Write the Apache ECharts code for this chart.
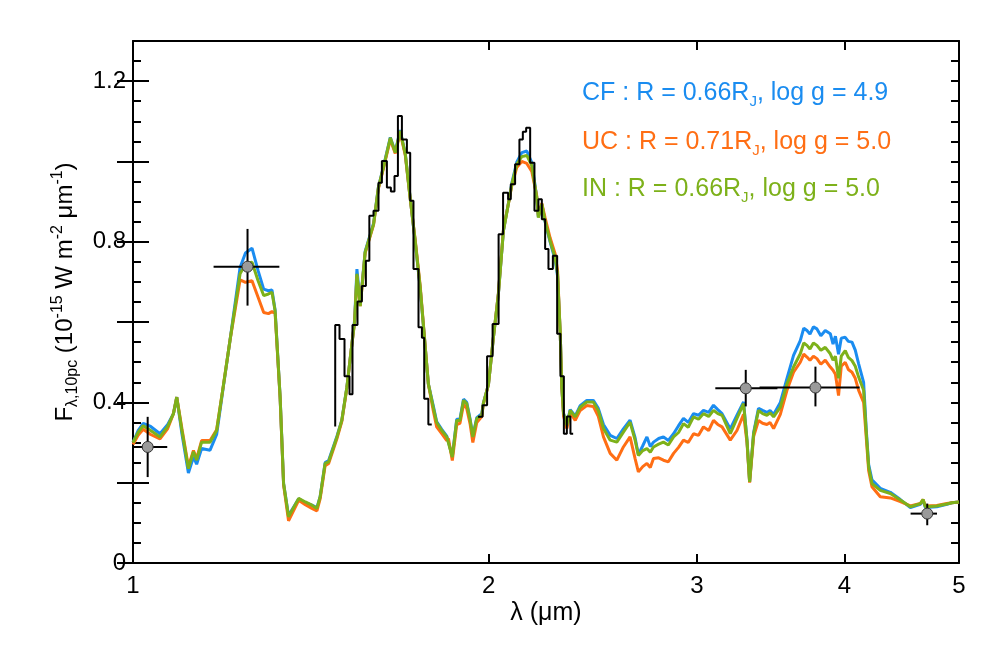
<!DOCTYPE html>
<html>
<head>
<meta charset="utf-8">
<script src="https://cdn.jsdelivr.net/npm/echarts@6/dist/echarts.min.js"></script>
<style>
html,body{margin:0;padding:0;background:#fff;}
#chart{width:997px;height:648px;}
</style>
</head>
<body>
<div id="chart"></div>
<script>
// Wavelength grid (micron) for the model spectra
const lam = [1.000,1.010,1.020,1.035,1.054,1.070,1.082,1.089,1.100,1.114,1.125,1.132,1.143,1.162,1.177,1.192,1.208,1.232,1.245,1.261,1.276,1.290,1.302,1.311,1.319,1.332,1.341,1.354,1.381,1.399,1.417,1.431,1.440,1.454,1.464,1.488,1.502,1.517,1.532,1.540,1.547,1.557,1.572,1.598,1.613,1.629,1.651,1.667,1.683,1.700,1.716,1.733,1.750,1.778,1.795,1.807,1.825,1.843,1.849,1.863,1.879,1.891,1.904,1.916,1.929,1.939,1.954,1.973,1.979,1.999,2.018,2.038,2.058,2.078,2.092,2.112,2.133,2.154,2.175,2.196,2.203,2.218,2.232,2.254,2.276,2.287,2.299,2.306,2.314,2.329,2.344,2.367,2.390,2.421,2.452,2.476,2.501,2.534,2.567,2.600,2.634,2.660,2.677,2.700,2.722,2.740,2.757,2.785,2.811,2.838,2.867,2.895,2.923,2.950,2.981,3.010,3.039,3.070,3.099,3.125,3.151,3.202,3.244,3.286,3.308,3.325,3.351,3.383,3.410,3.439,3.460,3.484,3.530,3.576,3.622,3.670,3.695,3.718,3.740,3.765,3.791,3.820,3.853,3.891,3.912,3.930,3.954,3.975,4.006,4.030,4.059,4.085,4.112,4.152,4.174,4.193,4.220,4.289,4.374,4.460,4.548,4.637,4.662,4.683,4.788,4.883,4.931,5.000];
// IN model (green)
const fluxIN = [.300,.325,.342,.330,.314,.340,.372,.413,.330,.235,.277,.256,.301,.301,.330,.438,.554,.720,.745,.749,.703,.666,.670,.674,.628,.413,.198,.115,.161,.152,.144,.136,.165,.248,.252,.314,.355,.438,.546,.600,.720,.640,.774,.844,.935,.985,1.059,1.022,1.076,1.018,.910,.802,.686,.446,.388,.350,.330,.314,.318,.264,.355,.355,.405,.397,.355,.314,.360,.368,.397,.445,.560,.670,.827,.894,.943,.993,1.012,1.015,.990,.910,.860,.894,.852,.802,.761,.720,.571,.438,.372,.343,.380,.364,.388,.401,.401,.380,.335,.306,.301,.326,.351,.306,.268,.280,.285,.276,.289,.296,.301,.294,.314,.325,.347,.338,.364,.358,.372,.365,.380,.372,.368,.322,.360,.397,.306,.202,.322,.380,.372,.368,.374,.364,.388,.446,.488,.521,.548,.542,.533,.548,.542,.530,.537,.521,.505,.515,.460,.515,.529,.512,.504,.490,.463,.430,.322,.239,.198,.181,.173,.157,.140,.148,.158,.140,.142,.147,.150,.152];
// CF model (blue)
const fluxCF = [.300,.330,.348,.340,.322,.345,.372,.413,.322,.224,.264,.246,.285,.281,.320,.435,.554,.736,.772,.784,.728,.682,.678,.680,.630,.413,.198,.118,.160,.150,.144,.138,.165,.250,.255,.316,.355,.438,.546,.605,.732,.645,.776,.846,.935,.987,1.060,1.024,1.078,1.018,.910,.800,.684,.446,.392,.352,.333,.316,.320,.266,.358,.358,.408,.400,.357,.316,.362,.372,.398,.445,.560,.670,.827,.896,.946,.998,1.022,1.026,.997,.912,.862,.894,.850,.800,.755,.715,.571,.438,.372,.345,.382,.366,.392,.405,.405,.385,.345,.318,.310,.334,.356,.312,.270,.292,.314,.290,.301,.310,.314,.305,.322,.342,.360,.350,.372,.368,.380,.375,.393,.382,.372,.334,.368,.401,.306,.202,.325,.385,.380,.375,.380,.370,.400,.460,.517,.554,.585,.579,.570,.588,.583,.566,.579,.571,.545,.565,.520,.560,.562,.552,.550,.530,.496,.450,.330,.245,.207,.186,.176,.158,.138,.146,.156,.138,.140,.146,.150,.152];
// UC model (orange)
const fluxUC = [.295,.318,.333,.320,.309,.335,.372,.413,.335,.240,.280,.260,.305,.305,.332,.438,.554,.705,.699,.703,.662,.624,.621,.626,.622,.410,.195,.105,.156,.145,.136,.130,.160,.242,.248,.310,.352,.436,.546,.600,.715,.640,.772,.842,.932,.983,1.055,1.020,1.072,1.015,.908,.805,.690,.446,.380,.339,.322,.305,.310,.255,.345,.348,.395,.385,.345,.300,.350,.365,.395,.445,.560,.672,.830,.894,.940,.985,1.000,.995,.975,.915,.865,.896,.860,.810,.770,.728,.571,.438,.365,.335,.375,.355,.380,.392,.390,.365,.314,.273,.256,.289,.314,.260,.227,.240,.248,.238,.260,.262,.256,.252,.273,.288,.306,.300,.322,.318,.339,.330,.355,.345,.339,.306,.330,.370,.300,.200,.315,.355,.348,.345,.350,.335,.370,.430,.475,.500,.520,.513,.505,.515,.509,.495,.505,.488,.480,.470,.417,.490,.500,.482,.475,.460,.430,.400,.310,.230,.190,.165,.162,.153,.142,.148,.158,.142,.143,.148,.150,.152];

// Observed spectrum (step histogram), two segments: left edge of each bin, flux
const obs1Lam = [1.4829,1.4829,1.4954,1.5100,1.5248,1.5337,1.5487,1.5620,1.5742,1.5849,1.5978,1.6134,1.6241,1.6400,1.6528,1.6645,1.6756,1.6887,1.7052,1.7162,1.7272,1.7442,1.7558,1.7637,1.7780,1.7898];
const obs1Flux = [0.340,0.593,0.558,0.465,0.420,0.593,0.651,0.690,0.753,0.865,0.877,0.947,1.001,0.935,0.925,0.964,1.113,1.055,1.022,0.902,0.732,0.587,0.561,0.409,0.345,0.345];
const obs2Lam = [1.9588,1.9762,1.9936,2.0151,2.0388,2.0567,2.0769,2.0878,2.1054,2.1232,2.1374,2.1512,2.1681,2.1863,2.2033,2.2180,2.2323,2.2468,2.2662,2.2852,2.3000,2.3153,2.3288,2.3452,2.3576];
const obs2Flux = [0.364,0.393,0.515,0.595,0.819,0.922,0.906,0.943,0.993,1.055,1.074,1.084,0.997,0.877,0.906,0.856,0.782,0.732,0.765,0.571,0.465,0.322,0.365,0.322,0.322];

// Photometry with error bars
const photLam = [1.029,1.250,3.300,3.780,4.700];
const photFlux = [0.289,0.738,0.435,0.437,0.123];
const photLamLo = [1.000,1.170,3.110,3.390,4.550];
const photLamHi = [1.069,1.330,3.510,4.120,4.790];
const photFluxLo = [0.214,0.641,0.390,0.390,0.094];
const photFluxHi = [0.364,0.832,0.481,0.489,0.148];

// Axis ticks
const xTickVals = [1,2,3,4,5];
const yMajorTicks = [0,0.2,0.4,0.6,0.8,1.0,1.2];
const yLabelVals = [0,0.4,0.8,1.2];

const legendLines = [
  {pre:'CF : R = 0.66R', post:', log g = 4.9'},
  {pre:'UC : R = 0.71R', post:', log g = 5.0'},
  {pre:'IN : R = 0.66R', post:', log g = 5.0'}
];

const cBlue = '#1a8cf0', cOrange = '#ff6e14', cGreen = '#7db11a';
const FONT = '"Liberation Sans", Arial, Helvetica, sans-serif';
const L = v => Math.log10(v);

const chart = echarts.init(document.getElementById('chart'), null, {renderer:'canvas'});

function xAxisDef(pos, labels){
  return {
    type:'value', min:0, max:L(5), position:pos,
    axisLine:{show:true, onZero:false, lineStyle:{color:'#000', width:2}},
    axisTick:{show:true, inside:true, length:9, lineStyle:{color:'#000', width:2}, customValues: xTickVals.map(L)},
    axisLabel:{show:labels, customValues: xTickVals.map(L), formatter: v => String(Math.round(Math.pow(10, v))), color:'#000', fontSize:24, fontFamily:FONT, margin:11},
    splitLine:{show:false}
  };
}
function yMinor(pos){
  return {type:'value', min:0, max:1.3, interval:0.05, position:pos,
    axisLine:{show:true, onZero:false, lineStyle:{color:'#000', width:2}},
    axisTick:{show:true, inside:true, length:8, lineStyle:{color:'#000', width:2}},
    axisLabel:{show:false}, splitLine:{show:false}};
}
function yMajor(pos, labels){
  return {type:'value', min:0, max:1.3, position:pos,
    axisLine:{show:false},
    axisTick:{show:true, inside:true, length:16, lineStyle:{color:'#000', width:2}, customValues: yMajorTicks},
    axisLabel:{show:labels, customValues: yLabelVals, formatter: v => v === 0 ? '0' : v.toFixed(1), color:'#000', fontSize:24, fontFamily:FONT, margin:7},
    splitLine:{show:false}};
}

function lineSeries(name, vals, color){
  return {name, type:'line', xAxisIndex:0, yAxisIndex:0, showSymbol:false, symbol:'none',
    data: lam.map((l,i)=>[L(l), vals[i]]), lineStyle:{color, width:3}, itemStyle:{color}, animation:false, z:2};
}
function stepSeries(ls, fs){
  return {type:'line', step:'end', xAxisIndex:0, yAxisIndex:0, showSymbol:false, symbol:'none',
    data: ls.map((l,i)=>[L(l), fs[i]]), lineStyle:{color:'#000', width:2}, animation:false, z:4};
}

const photData = photLam.map((l,i)=>[L(l), photFlux[i], L(photLamLo[i]), L(photLamHi[i]), photFluxLo[i], photFluxHi[i]]);

const legendGraphics = legendLines.map((t,i)=>{
  const col = [cBlue,cOrange,cGreen][i];
  return {type:'text', left:582, top:[81,130,177][i], z:100,
    style:{text:'{a|'+t.pre+'}{s|J}{a|'+t.post+'}',
      rich:{a:{fontSize:25, fontFamily:FONT, fill:col, color:col},
            s:{fontSize:15, fontFamily:FONT, fill:col, color:col, padding:[16,0,0,0]}}}};
});

const option = {
  backgroundColor:'#fff',
  animation:false,
  grid:{left:133, right:38, top:41, bottom:85, containLabel:false},
  xAxis:[xAxisDef('bottom', true), xAxisDef('top', false)],
  yAxis:[yMinor('left'), yMajor('left', true), yMinor('right'), yMajor('right', false)],
  series:[
    lineSeries('CF', fluxCF, cBlue),
    lineSeries('UC', fluxUC, cOrange),
    lineSeries('IN', fluxIN, cGreen),
    stepSeries(obs1Lam, obs1Flux),
    stepSeries(obs2Lam, obs2Flux),
    {type:'custom', xAxisIndex:0, yAxisIndex:0, z:6, animation:false,
      data: photData,
      renderItem:(params, api)=>{
        const c = api.coord([api.value(0), api.value(1)]);
        const xl = api.coord([api.value(2), api.value(1)]);
        const xh = api.coord([api.value(3), api.value(1)]);
        const yl = api.coord([api.value(0), api.value(4)]);
        const yh = api.coord([api.value(0), api.value(5)]);
        return {type:'group', children:[
          {type:'line', shape:{x1:xl[0], y1:xl[1], x2:xh[0], y2:xh[1]}, style:{stroke:'#000', lineWidth:2}},
          {type:'line', shape:{x1:yl[0], y1:yl[1], x2:yh[0], y2:yh[1]}, style:{stroke:'#000', lineWidth:2}},
          {type:'circle', shape:{cx:c[0], cy:c[1], r:5.5}, style:{fill:'#9a9a9a', stroke:'#333', lineWidth:1}}
        ]};
      }}
  ],
  graphic:[
    ...legendGraphics,
    {type:'text', x:546, y:613, z:100,
      style:{text:'λ (μm)', fontSize:25, fontFamily:FONT, fill:'#000', align:'center', verticalAlign:'middle'}},
    {type:'text', x:65, y:292, rotation:Math.PI/2, z:100,
      style:{text:'{m|F}{sb|λ,10pc}{m| (10}{sp|-15}{m| W m}{sp|-2}{m| μm}{sp|-1}{m|)}',
        align:'center', verticalAlign:'middle',
        rich:{m:{fontSize:24, fontFamily:FONT, fill:'#000'},
              sb:{fontSize:16, fontFamily:FONT, fill:'#000', padding:[16,0,0,0]},
              sp:{fontSize:16, fontFamily:FONT, fill:'#000', padding:[0,0,14,0]}}}}
  ]
};
chart.setOption(option);
</script>
</body>
</html>
